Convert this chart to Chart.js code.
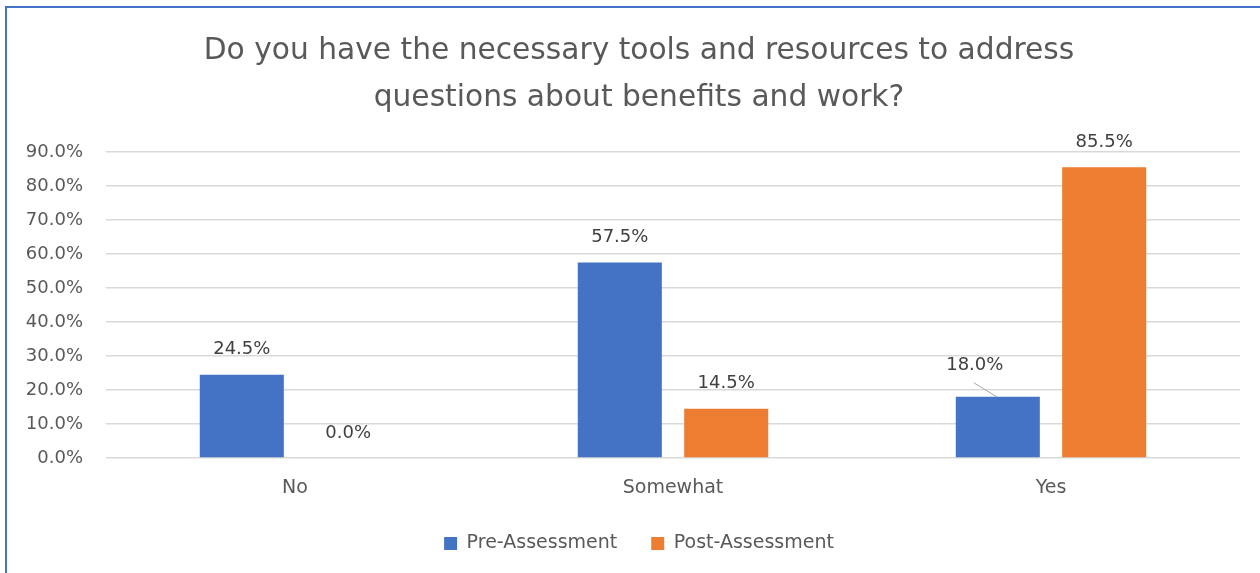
<!DOCTYPE html>
<html>
<head>
<meta charset="utf-8">
<script src="https://cdn.jsdelivr.net/npm/chart.js@4.4.1/dist/chart.umd.min.js"></script>
<style>
  html, body { margin: 0; padding: 0; background: #fff; overflow: hidden; }
  #wrap { position: absolute; left: 0; top: 0; width: 1270px; height: 573px; }
  #frame { position: absolute; left: 5px; top: 6px; right: -10px; bottom: -10px;
           border-left: 2px solid #4472C4; border-top: 2px solid #4472C4; pointer-events: none; }
</style>
</head>
<body>
<div id="wrap">
  <canvas id="chart" width="1270" height="573"></canvas>
  <div id="frame"></div>
</div>
<script>
// ข้อมูลกราฟ
const categories = ["No", "Somewhat", "Yes"];
const preValues = [24.5, 57.5, 18.0];
const postValues = [0.0, 14.5, 85.5];
const seriesNames = ["Pre-Assessment", "Post-Assessment"];
const yTicks = [0, 10, 20, 30, 40, 50, 60, 70, 80, 90];

const FONT = "'DejaVu Sans', sans-serif";
const TEXT = "#595959";

// ป้ายค่าบนแท่ง (แท่ง Pre ของ "Yes" ถูกเลื่อนออกไปพร้อมเส้นชี้)
const valueLabels = {
    id: 'valueLabels',
    afterDatasetsDraw(chart) {
        const ctx = chart.ctx;
        ctx.save();
        ctx.font = "18px " + FONT;
        ctx.fillStyle = "#404040";
        ctx.textAlign = "center";
        ctx.textBaseline = "middle";
        chart.data.datasets.forEach((ds, di) => {
            chart.getDatasetMeta(di).data.forEach((bar, i) => {
                const txt = ds.data[i].toFixed(1) + "%";
                let lx = bar.x, ly = bar.y - 25;
                if (di === 0 && i === 2) {
                    lx = bar.x - 23; ly = bar.y - 31;
                    ctx.strokeStyle = "#a6a6a6";
                    ctx.lineWidth = 1;
                    ctx.beginPath();
                    ctx.moveTo(lx - 1, ly + 17);
                    ctx.lineTo(bar.x - 1, bar.y);
                    ctx.stroke();
                }
                ctx.fillText(txt, lx, ly);
            });
        });
        ctx.restore();
    }
};

new Chart(document.getElementById('chart'), {
    type: 'bar',
    data: {
        labels: categories,
        datasets: [
            { label: seriesNames[0], data: preValues, backgroundColor: "#4472C4" },
            { label: seriesNames[1], data: postValues, backgroundColor: "#ED7D31" }
        ]
    },
    options: {
        responsive: false,
        animation: false,
        categoryPercentage: 0.563,
        barPercentage: 0.79,
        layout: { padding: { left: 8, right: 0, top: 28, bottom: 10 } },
        plugins: {
            title: {
                display: true,
                text: ["Do you have the necessary tools and resources to address",
                       "questions about benefits and work?"],
                color: TEXT,
                font: { family: FONT, size: 29.7, weight: 'normal', lineHeight: 1.58 },
                padding: { top: 0, bottom: 30 }
            },
            legend: {
                position: 'bottom',
                labels: {
                    color: TEXT,
                    font: { family: FONT, size: 19 },
                    boxWidth: 13, boxHeight: 13, padding: 34
                }
            },
            tooltip: { enabled: false }
        },
        scales: {
            x: {
                afterFit: s => { s.height = 42; },
                grid: { display: false },
                border: { display: false },
                ticks: { color: TEXT, font: { family: FONT, size: 19 }, padding: 11 }
            },
            y: {
                min: 0, max: 90,
                afterBuildTicks: s => { s.ticks = yTicks.map(v => ({ value: v })); },
                afterFit: s => { s.width = 98; },
                grid: { color: "#d9d9d9", lineWidth: 1.5, drawTicks: false },
                border: { display: false },
                ticks: {
                    color: TEXT, font: { family: FONT, size: 18 }, padding: 23,
                    callback: v => v.toFixed(1) + "%"
                }
            },
            // แกนว่างด้านขวา กันระยะขอบขวาของพื้นที่กราฟ
            yRight: {
                position: 'right',
                display: true,
                afterFit: s => { s.width = 30; },
                grid: { display: false },
                border: { display: false },
                ticks: { display: false }
            }
        }
    },
    plugins: [valueLabels]
});
</script>
</body>
</html>
